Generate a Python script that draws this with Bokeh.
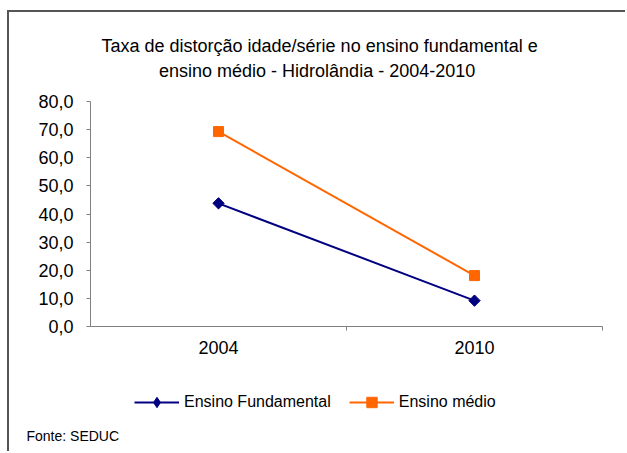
from bokeh.plotting import figure
from bokeh.models import Range1d, FixedTicker, Legend, LegendItem, Label
from bokeh.embed import file_html
from bokeh.resources import INLINE

# ---- data ----
years = ["2004", "2010"]
fundamental = [43.8, 9.2]
medio = [69.3, 18.1]
y_ticks = [0, 10, 20, 30, 40, 50, 60, 70, 80]
y_tick_labels = ["0,0", "10,0", "20,0", "30,0", "40,0", "50,0", "60,0", "70,0", "80,0"]
title_lines = ["Taxa de distorção idade/série no ensino fundamental e",
               "ensino médio - Hidrolândia -  2004-2010"]
series_names = ["Ensino Fundamental", "Ensino médio"]
source_note = "Fonte: SEDUC"

NAVY = "#000080"
ORANGE = "#FF6600"
AXIS = "#808080"
FONT = "Liberation Sans"

x_pos = [i + 0.5 for i in range(len(years))]

# Whole canvas is the plot frame; the axes are pinned at x=0 / y=0.
W, H = 618, 441
FL, FT, FR, FB = 81, 89, 593, 314          # pixel box of the value area
xs = len(years) / (FR - FL)                  # data units per pixel
ys = 80 / (FB - FT)
x_range = Range1d(-FL * xs, len(years) + (W - FR) * xs)
y_range = Range1d(-(H - FB) * ys, 80 + FT * ys)

p = figure(width=W, height=H, output_backend="svg", toolbar_location=None,
           x_range=x_range, y_range=y_range,
           min_border_left=0, min_border_right=0, min_border_top=0, min_border_bottom=0)
p.styles = {"margin-left": "7px", "margin-top": "10px",
            "border-top": "2px solid #555555", "border-left": "2px solid #555555"}
p.outline_line_color = None
p.xgrid.visible = False
p.ygrid.visible = False
p.background_fill_color = "white"
p.border_fill_color = "white"

# y axis
p.yaxis.fixed_location = 0
p.yaxis.bounds = (0, 80)
p.yaxis.ticker = FixedTicker(ticks=y_ticks)
p.yaxis.major_label_overrides = {t: l for t, l in zip(y_ticks, y_tick_labels)}
p.yaxis.minor_tick_line_color = None
p.yaxis.major_tick_in = 0
p.yaxis.major_tick_out = 4
p.yaxis.axis_line_color = AXIS
p.yaxis.major_tick_line_color = AXIS
p.yaxis.major_label_text_font = FONT
p.yaxis.major_label_text_font_size = "18px"
p.yaxis.major_label_text_color = "black"
p.yaxis.major_label_standoff = 13

# x axis
p.xaxis.fixed_location = 0
p.xaxis.bounds = (0, len(years))
p.xaxis.ticker = FixedTicker(ticks=x_pos, minor_ticks=[1, 2])
p.xaxis.major_label_overrides = {x: y for x, y in zip(x_pos, years)}
p.xaxis.major_tick_line_color = None
p.xaxis.major_tick_out = 4
p.xaxis.major_tick_in = 0
p.xaxis.minor_tick_in = 0
p.xaxis.minor_tick_out = 4
p.xaxis.minor_tick_line_color = AXIS
p.xaxis.axis_line_color = AXIS
p.xaxis.major_label_text_font = FONT
p.xaxis.major_label_text_font_size = "18px"
p.xaxis.major_label_text_color = "black"
p.xaxis.major_label_standoff = 10

# series
l1 = p.line(x_pos, fundamental, line_color=NAVY, line_width=2)
# plain diamond (used for the legend swatch, legend markers ignore angles),
# covered in the plot by the rotated square drawn on top of it
d1 = p.scatter(x_pos, fundamental, marker="diamond", size=10, fill_color=NAVY, line_color=NAVY)
m1 = p.scatter(x_pos, fundamental, marker="square", size=8, angle=0.785398,
               fill_color=NAVY, line_color=NAVY)
l2 = p.line(x_pos, medio, line_color=ORANGE, line_width=2)
m2 = p.scatter(x_pos, medio, marker="square", size=10, fill_color=ORANGE, line_color=ORANGE)

legend = Legend(items=[LegendItem(label=series_names[0], renderers=[l1, d1]),
                       LegendItem(label=series_names[1], renderers=[l2, m2])],
                location=(125, 38), orientation="horizontal",
                glyph_width=45, glyph_height=26, label_standoff=5, spacing=18,
                padding=0, margin=0, border_line_color=None, background_fill_alpha=0,
                label_text_font=FONT, label_text_font_size="16px", label_text_color="black")
p.add_layout(legend, "center")

# title lines and source note
for txt, yy in zip(title_lines, [99.6, 91.0]):
    p.add_layout(Label(x=0.895, y=yy, text=txt, text_align="center", text_baseline="middle",
                       text_font=FONT, text_font_size="18px", text_color="black"))

p.add_layout(Label(x=-0.25, y=-38.8, text=source_note, text_align="left",
                   text_baseline="middle", text_font=FONT, text_font_size="14px",
                   text_color="black"))

open("out.html", "w").write(file_html(p, INLINE))
